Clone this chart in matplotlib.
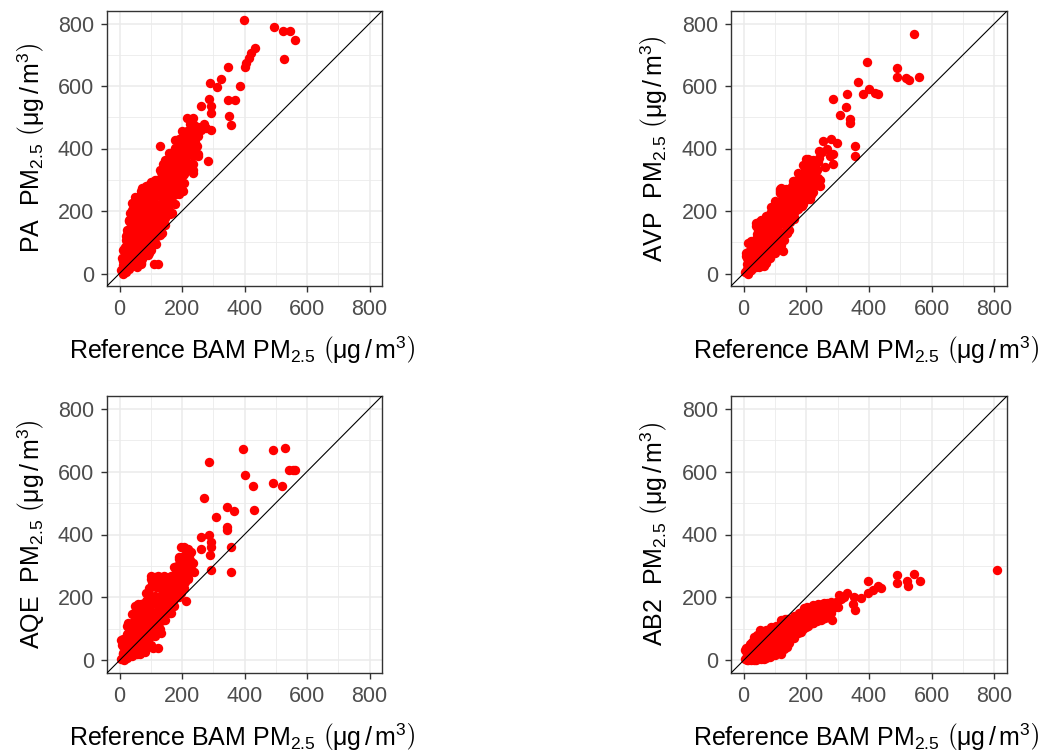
import matplotlib
matplotlib.use("Agg")
import matplotlib.pyplot as plt

plt.rcParams['font.family'] = ['Liberation Sans', 'DejaVu Sans']
plt.rcParams['mathtext.fontset'] = 'custom'
plt.rcParams['mathtext.rm'] = 'Liberation Sans'
plt.rcParams['mathtext.it'] = 'Liberation Sans:italic'
plt.rcParams['mathtext.bf'] = 'Liberation Sans:bold'

# --- values (BAM reference vs sensor, ug/m3) ---
# scattered / edge points
pa_bam = [5, 10, 15, 20, 25, 10, 20, 30, 35, 40,
          15, 25, 30, 40, 45, 50, 55, 60, 65, 70,
          20, 30, 35, 40, 45, 50, 55, 60, 65, 70,
          45, 55, 60, 75, 80, 85, 90, 95, 100, 105,
          75, 80, 85, 90, 95, 100, 105, 110, 115, 120,
          110, 115, 120, 125, 130, 135, 140, 145, 150, 155,
          130, 140, 150, 160, 165, 170, 175, 180, 185, 190,
          160, 170, 195, 200, 205, 210, 215, 220, 225, 230,
          70, 90, 95, 110, 122, 85, 100, 110, 25, 30,
          35, 40, 50, 60, 72, 93, 114, 135, 130, 146,
          157, 178, 199, 215, 231, 252, 262, 278, 294, 284,
          252, 236, 204, 204, 220, 236, 167, 135, 199, 10,
          215, 236, 262, 286, 294, 292, 289, 326, 313, 347,
          347, 368, 350, 358, 385, 397, 493, 522, 546, 561,
          527, 432, 421, 413, 405, 403, 240, 245, 270, 225]
pa_sensor = [10, 0, 20, 5, 35, 40, 60, 15, 50, 25,
             80, 100, 70, 90, 60, 40, 20, 70, 45, 30,
             120, 140, 170, 120, 200, 150, 110, 180, 220, 130,
             230, 240, 210, 170, 100, 60, 80, 130, 110, 90,
             250, 200, 230, 170, 270, 210, 240, 180, 150, 120,
             280, 260, 300, 220, 250, 190, 280, 230, 310, 260,
             330, 350, 340, 300, 350, 280, 320, 370, 300, 340,
             380, 390, 400, 360, 320, 380, 420, 350, 440, 400,
             35, 60, 65, 30, 30, 75, 85, 100, 140, 170,
             195, 225, 245, 245, 274, 284, 300, 322, 407, 364,
             385, 428, 455, 455, 470, 470, 460, 465, 460, 359,
             375, 321, 263, 320, 341, 330, 194, 130, 268, 15,
             497, 497, 537, 560, 535, 513, 609, 622, 596, 662,
             556, 556, 503, 476, 601, 811, 790, 777, 777, 748,
             686, 721, 705, 689, 673, 662, 420, 440, 480, 480]
# dense core, read column by column
pa_core_bam = [10, 12, 8, 11,
               21, 19, 22, 18, 20, 23,
               31, 29, 32, 28, 30, 33, 29,
               41, 39, 42, 38, 40, 43, 39, 41, 42,
               56, 54, 57, 53, 55, 58, 54, 56, 57,
               71, 69, 72, 68, 70, 73, 69, 71, 72, 70,
               86, 84, 87, 83, 85, 88, 84, 86, 87, 85,
               101, 99, 102, 98, 100, 103, 99, 101, 102, 100,
               116, 114, 117, 113, 115, 118, 114, 116, 117,
               131, 129, 132, 128, 130, 133, 129, 131, 132,
               146, 144, 147, 143, 145, 148, 144, 146, 147,
               161, 159, 162, 158, 160, 163, 159, 161, 162,
               176, 174, 177, 173, 175, 178, 174, 176,
               191, 189, 192, 188, 190, 193, 189, 191,
               206, 204, 207, 203, 205, 208, 204,
               221, 219, 222, 218, 220, 223,
               236, 234, 237, 233, 235, 238,
               251, 249, 252, 248]
pa_core_sensor = [2, 27, 50, 76,
                  12, 37, 58, 86, 108, 128,
                  22, 44, 71, 96, 118, 146, 168,
                  30, 56, 79, 104, 132, 154, 181, 203, 222,
                  38, 66, 91, 114, 141, 163, 191, 214, 238,
                  48, 76, 99, 126, 151, 174, 201, 224, 249, 264,
                  62, 84, 111, 134, 161, 186, 209, 236, 259, 279,
                  76, 99, 126, 149, 176, 199, 226, 249, 276, 293,
                  96, 119, 146, 169, 196, 219, 246, 269, 296,
                  124, 151, 174, 201, 224, 251, 274, 301, 324,
                  156, 179, 206, 229, 256, 279, 306, 329, 354,
                  189, 216, 239, 266, 289, 316, 339, 366, 384,
                  224, 251, 274, 301, 324, 351, 374, 401,
                  256, 279, 306, 329, 356, 379, 406, 429,
                  289, 316, 339, 366, 389, 416, 439,
                  331, 354, 381, 404, 431, 454,
                  349, 376, 399, 426, 449, 474,
                  381, 409, 441, 466]

avp_bam = [5, 10, 15, 20, 25, 30, 35, 40, 45, 50,
           10, 15, 25, 30, 40, 45, 50, 55, 60, 65,
           50, 60, 65, 70, 75, 80, 85, 90, 95, 100,
           70, 85, 95, 105, 110, 115, 120, 125, 130, 135,
           105, 115, 125, 135, 140, 145, 150, 155, 160, 165,
           170, 175, 180, 185, 190, 195, 200, 205, 210, 215,
           220, 225, 230, 240, 245, 250, 260, 120, 140, 160,
           9, 14, 25, 41, 73, 115, 120, 158, 200, 51,
           73, 115, 126, 137, 158, 185, 211, 243, 206, 216,
           232, 241, 254, 280, 297, 286, 275, 286, 354, 356,
           284, 331, 326, 307, 339, 341, 365, 401, 382, 419,
           430, 393, 489, 489, 518, 526, 560, 542, 265, 225]
avp_sensor = [5, 15, 0, 30, 10, 45, 20, 60, 35, 20,
              50, 70, 100, 80, 110, 140, 90, 60, 40, 25,
              165, 130, 100, 70, 45, 150, 120, 95, 70, 180,
              175, 190, 210, 140, 110, 85, 230, 170, 130, 200,
              230, 265, 250, 270, 160, 230, 190, 280, 240, 200,
              290, 260, 220, 300, 250, 330, 280, 360, 310, 250,
              340, 290, 330, 370, 300, 390, 340, 90, 130, 175,
              66, 98, 103, 162, 183, 269, 274, 295, 365, 29,
              34, 77, 72, 130, 183, 215, 237, 280, 365, 354,
              333, 391, 424, 429, 418, 381, 376, 349, 407, 375,
              557, 573, 533, 506, 493, 482, 612, 591, 576, 578,
              575, 676, 658, 629, 626, 618, 629, 767, 400, 360]
avp_core_bam = [10, 12, 9,
                25, 27, 24, 26,
                40, 42, 39, 41, 43, 40,
                55, 57, 54, 56, 58, 55, 57,
                70, 72, 69, 71, 73, 70, 72,
                85, 87, 84, 86, 88, 85, 87, 86,
                100, 102, 99, 101, 103, 100, 102, 101,
                115, 117, 114, 116, 118, 115, 117, 116,
                130, 132, 129, 131, 133, 130, 132,
                145, 147, 144, 146, 148, 145,
                160, 162, 159, 161, 163, 160,
                175, 177, 174, 176, 178, 175,
                190, 192, 189, 191, 193, 190,
                205, 207, 204, 206, 208,
                220, 222, 219, 221, 223,
                235, 237, 234, 236]
avp_core_sensor = [5, 30, 55,
                   12, 38, 65, 92,
                   22, 48, 75, 100, 128, 152,
                   30, 56, 82, 108, 134, 158, 172,
                   38, 64, 90, 116, 140, 162, 180,
                   50, 75, 100, 126, 150, 174, 196, 212,
                   66, 92, 118, 142, 168, 192, 216, 232,
                   82, 108, 134, 158, 184, 208, 232, 258,
                   108, 134, 160, 184, 210, 236, 262,
                   140, 166, 190, 216, 242, 270,
                   180, 204, 228, 254, 278, 296,
                   205, 230, 256, 280, 304, 322,
                   222, 248, 272, 298, 322, 346,
                   240, 266, 292, 318, 344,
                   262, 288, 312, 338, 362,
                   282, 306, 332, 358]

aqe_bam = [5, 10, 15, 20, 25, 30, 35, 40, 45, 50,
           10, 15, 25, 30, 40, 45, 50, 55, 60, 65,
           55, 60, 65, 70, 75, 80, 85, 90, 95, 100,
           70, 85, 95, 105, 110, 115, 120, 125, 130, 135,
           105, 115, 130, 145, 140, 150, 155, 160, 165, 170,
           175, 180, 185, 190, 195, 200, 205, 210, 215, 220,
           225, 230, 235, 120, 140,
           5, 27, 48, 101, 122, 143, 165, 175, 191, 197,
           48, 80, 106, 122, 133, 165, 197, 218, 239, 212,
           207, 218, 228, 260, 287, 292, 292, 260, 290, 292,
           356, 356, 345, 345, 345, 367, 431, 308, 269, 287,
           395, 492, 528, 401, 428, 492, 521, 542, 556, 563,
           60, 90]
aqe_sensor = [5, 20, 0, 35, 15, 50, 25, 70, 40, 20,
              45, 60, 85, 100, 120, 150, 95, 60, 35, 20,
              170, 130, 100, 75, 50, 160, 130, 100, 75, 200,
              180, 190, 230, 150, 120, 100, 250, 200, 160, 230,
              250, 265, 265, 265, 190, 230, 200, 265, 240, 190,
              250, 220, 300, 270, 240, 330, 290, 250, 340, 300,
              320, 290, 310, 130, 150,
              65, 118, 172, 269, 269, 269, 269, 264, 323, 361,
              22, 27, 38, 38, 86, 151, 215, 258, 280, 188,
              361, 355, 344, 393, 398, 377, 361, 355, 334, 286,
              361, 280, 425, 415, 488, 474, 479, 457, 517, 630,
              671, 670, 676, 590, 554, 565, 554, 606, 606, 606,
              180, 210]
aqe_core_bam = [10, 12, 9, 11,
                25, 27, 24, 26, 25,
                40, 42, 39, 41, 43, 40,
                55, 57, 54, 56, 58, 55, 57,
                70, 72, 69, 71, 73, 70, 72,
                85, 87, 84, 86, 88, 85, 87, 86,
                100, 102, 99, 101, 103, 100, 102, 101, 100,
                115, 117, 114, 116, 118, 115, 117, 116,
                130, 132, 129, 131, 133, 130, 132,
                145, 147, 144, 146, 148, 145,
                160, 162, 159, 161, 163,
                175, 177, 174, 176, 178, 175,
                190, 192, 189, 191, 193, 190,
                205, 207, 204, 206, 208,
                220, 222, 219, 221]
aqe_core_sensor = [3, 25, 48, 68,
                   8, 32, 58, 84, 108,
                   14, 40, 66, 92, 118, 146,
                   20, 46, 72, 98, 124, 150, 172,
                   28, 54, 80, 106, 132, 158, 180,
                   38, 62, 88, 114, 140, 166, 192, 214,
                   50, 76, 102, 128, 154, 180, 206, 232, 258,
                   76, 102, 128, 154, 180, 206, 232, 258,
                   100, 126, 152, 178, 204, 230, 256,
                   128, 154, 180, 206, 232, 258,
                   150, 176, 202, 228, 254,
                   172, 198, 222, 248, 274, 298,
                   200, 226, 252, 278, 304, 330,
                   230, 256, 282, 308, 334,
                   262, 288, 312, 336]

ab2_bam = [5, 10, 15, 20, 25, 30, 35, 40, 45, 50,
           50, 55, 60, 65, 70, 75, 80, 85, 90, 95,
           100, 105, 110, 115, 120, 125, 130, 135, 140, 145,
           150, 155, 160, 165, 170, 175, 180, 185, 190, 195,
           200, 205, 210, 215, 220, 225, 230, 235, 240, 245,
           250, 255, 260, 265, 270, 275, 285, 295, 300, 20,
           5, 21, 32, 53, 86, 118, 139, 32, 64, 118,
           139, 182, 203, 246, 187, 198, 203, 235, 246, 257,
           289, 267, 278, 281, 303, 329, 353, 356, 374, 396,
           412, 428, 439, 396, 490, 490, 522, 543, 562, 524,
           807, 350, 320, 310]
ab2_sensor = [5, 15, 0, 25, 10, 40, 20, 55, 30, 10,
              70, 45, 85, 25, 60, 40, 90, 70, 50, 30,
              95, 70, 45, 105, 80, 55, 120, 95, 70, 130,
              100, 80, 125, 95, 140, 110, 90, 150, 120, 160,
              135, 110, 165, 140, 120, 170, 150, 130, 165, 145,
              175, 155, 135, 170, 150, 180, 165, 185, 170, 45,
              32, 53, 75, 96, 107, 128, 133, 0, 5, 21,
              43, 91, 117, 128, 149, 107, 171, 149, 160, 181,
              171, 181, 176, 128, 208, 213, 203, 160, 197, 213,
              224, 235, 229, 253, 272, 247, 251, 274, 251, 235,
              286, 180, 200, 195]
ab2_core_bam = [10, 12, 9,
                25, 27, 24, 26,
                40, 42, 39, 41, 43,
                55, 57, 54, 56, 58,
                70, 72, 69, 71, 73,
                85, 87, 84, 86, 88,
                100, 102, 99, 101, 103,
                115, 117, 114, 116, 118,
                130, 132, 129, 131, 133,
                145, 147, 144, 146,
                160, 162, 159, 161,
                175, 177, 174, 176,
                190, 192, 189, 191, 193,
                205, 207, 204, 206,
                220, 222, 219, 221,
                235, 237, 234, 236,
                250, 252, 249, 251,
                265, 267, 264,
                280, 282, 279]
ab2_core_sensor = [2, 20, 38,
                   0, 18, 38, 58,
                   2, 22, 42, 62, 80,
                   5, 27, 48, 70, 92,
                   8, 30, 52, 74, 96,
                   12, 34, 56, 80, 102,
                   18, 40, 62, 86, 108,
                   24, 48, 72, 96, 120,
                   36, 60, 84, 108, 130,
                   56, 80, 104, 128,
                   70, 94, 118, 140,
                   86, 108, 130, 150,
                   100, 120, 140, 158, 165,
                   115, 135, 152, 168,
                   120, 140, 158, 175,
                   125, 145, 162, 178,
                   130, 148, 165, 180,
                   140, 160, 178,
                   150, 168, 185]

sensor_names = ['PA', 'AVP', 'AQE', 'AB2']
ticks = [0, 200, 400, 600, 800]
minor_ticks = [100, 300, 500, 700]

W, H = 1052, 753
fig = plt.figure(figsize=(W / 100, H / 100), dpi=100)

# panel boxes in pixels: left, top, width, height
boxes = [(107, 11, 275, 275), (731, 11, 276, 275),
         (107, 396, 275, 277), (731, 396, 276, 277)]
series = [(pa_bam + pa_core_bam, pa_sensor + pa_core_sensor),
          (avp_bam + avp_core_bam, avp_sensor + avp_core_sensor),
          (aqe_bam + aqe_core_bam, aqe_sensor + aqe_core_sensor),
          (ab2_bam + ab2_core_bam, ab2_sensor + ab2_core_sensor)]

unit = r'$\left(\mathrm{μg\,/\,m^{3}}\right)$'
xlabel = 'Reference BAM PM$_{2.5}$ ' + unit

for (l, t, w, h), (xs, ys), name in zip(boxes, series, sensor_names):
    ax = fig.add_axes([l / W, 1 - (t + h) / H, w / W, h / H])
    ax.set_xlim(-40, 840)
    ax.set_ylim(-40, 840)
    ax.set_xticks(ticks)
    ax.set_yticks(ticks)
    ax.set_xticks(minor_ticks, minor=True)
    ax.set_yticks(minor_ticks, minor=True)
    ax.grid(which='major', color='#EBEBEB', lw=1.1)
    ax.grid(which='minor', color='#EBEBEB', lw=0.6)
    ax.set_axisbelow(True)
    ax.tick_params(which='major', length=4.5, width=1.0, color='#333333',
                   labelcolor='#4D4D4D', labelsize=15.5, pad=5)
    ax.tick_params(which='minor', length=0)
    for sp in ax.spines.values():
        sp.set_color('#333333')
        sp.set_linewidth(1.0)

    ax.scatter(xs, ys, s=46, color='red', linewidths=0, zorder=2)
    ax.axline((0, 0), slope=1, color='black', lw=0.8, zorder=3)

    ax.text(0.49, -0.265, xlabel, transform=ax.transAxes, ha='center',
            va='baseline', fontsize=18)
    ax.text(-0.245, 0.5, name + '  PM$_{2.5}$ ' + unit, transform=ax.transAxes,
            rotation=90, rotation_mode='anchor', ha='center', va='baseline',
            fontsize=18)

fig.savefig('out.png', dpi=100)
